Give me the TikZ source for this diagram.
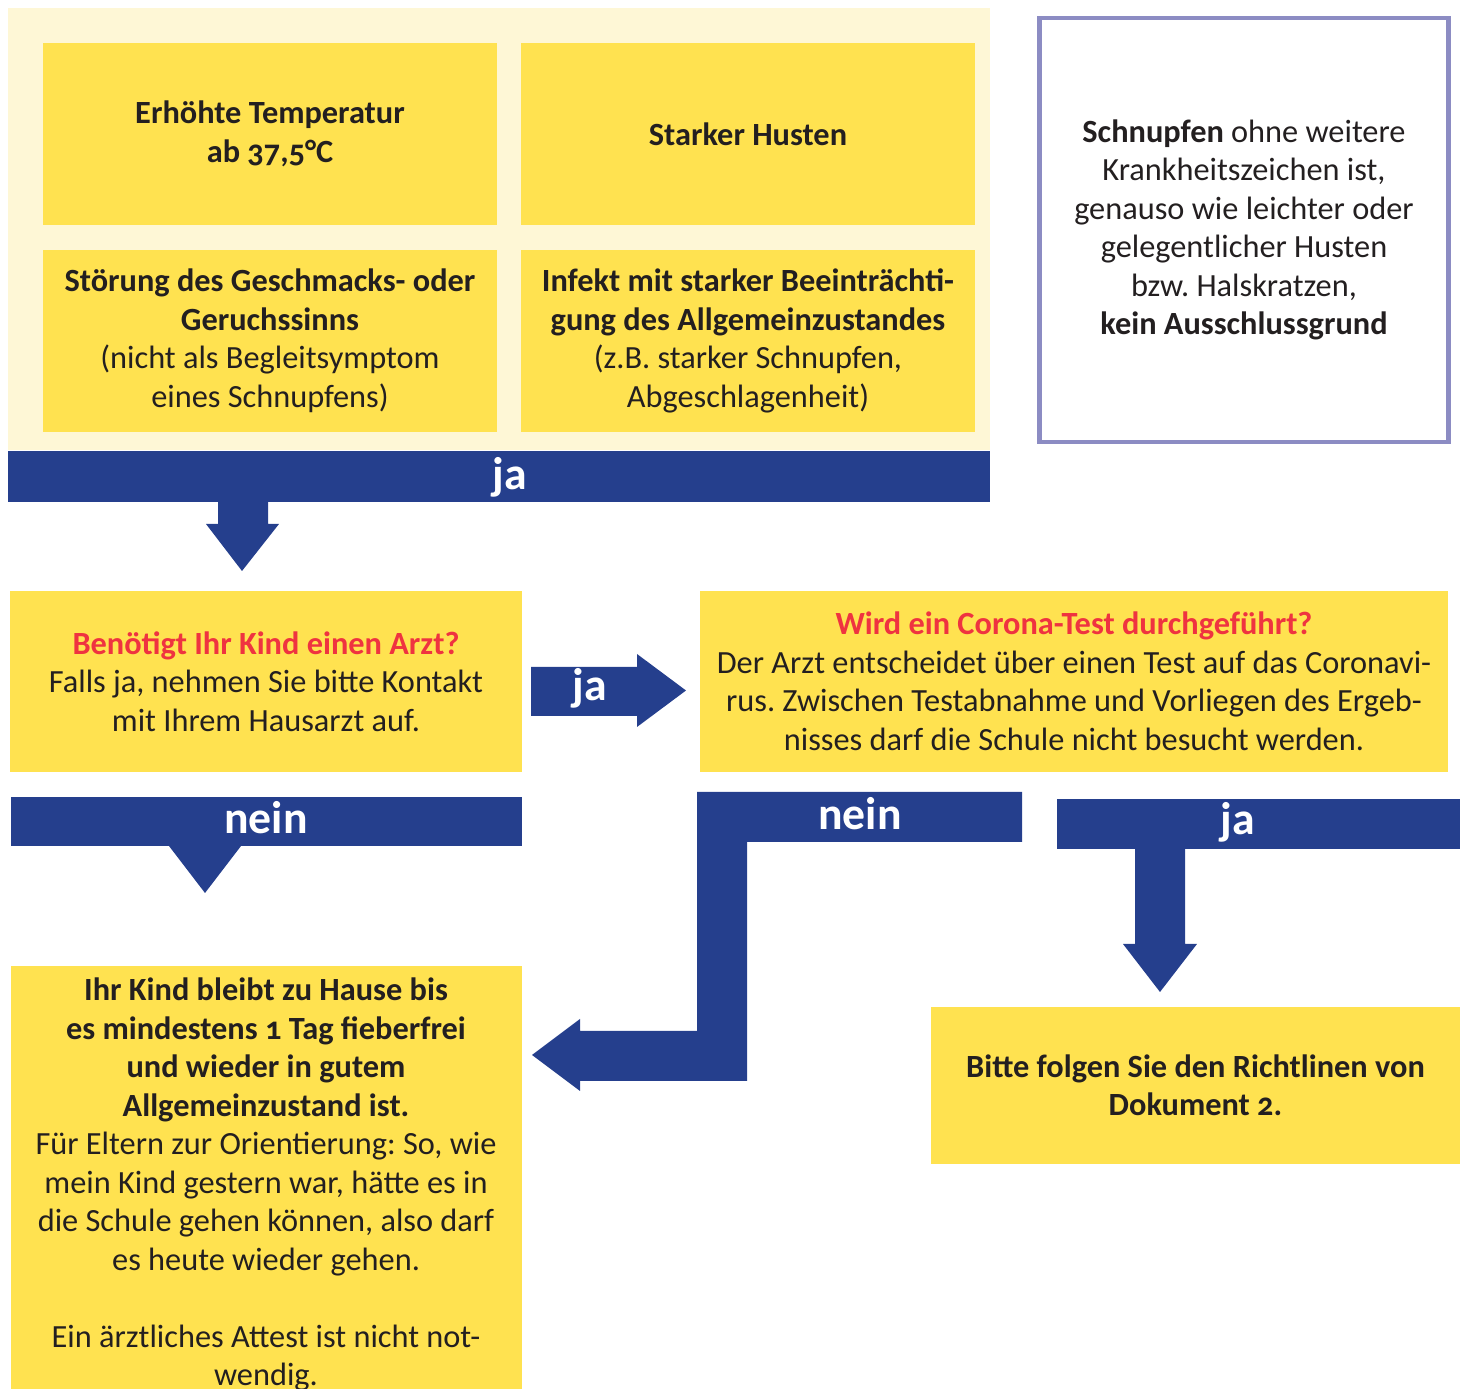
\documentclass[tikz,border=0pt]{standalone}
\usepackage{fontspec}
\setmainfont{Carlito}[Numbers=OldStyle]
\usetikzlibrary{positioning}

\definecolor{boxyellow}{RGB}{255,226,80}
\definecolor{palecream}{RGB}{254,247,214}
\definecolor{flowblue}{RGB}{37,63,141}
\definecolor{alertred}{RGB}{239,51,64}
\definecolor{notelila}{RGB}{140,140,195}
\definecolor{textgray}{RGB}{35,31,32}

\newcommand{\bodyfont}{\fontsize{9.2}{10.95}\selectfont\frenchspacing}
\newcommand{\barfont}{\fontsize{13}{13}\selectfont\bfseries}
\newcommand{\alert}[1]{\textcolor{alertred}{\textbf{#1}}}

\begin{document}
\frenchspacing
\begin{tikzpicture}[x=0.01cm,y=-0.01cm,inner sep=0pt,outer sep=0pt,
infobox/.style={fill=boxyellow,rectangle,minimum width=4.54cm,minimum height=1.82cm,align=center,text=textgray,font=\bodyfont},
notebox/.style={draw=notelila,line width=0.045cm,rectangle,minimum width=4.09cm,minimum height=4.24cm,align=center,text=textgray,font=\bodyfont},
bluebar/.style={fill=flowblue,rectangle},
barlabel/.style={text=white,font=\barfont},
blockarrow/.style={fill=flowblue}]

\useasboundingbox (0,0) rectangle (1462,1389);
\fill[palecream] (8,8) rectangle (990,450);

% symptoms
\draw (270,134) node[infobox] (temp) {\textbf{Erhöhte Temperatur}\\\textbf{ab 37,5°C}};
\draw (748,134) node[infobox] (husten) {\textbf{Starker Husten}};
\draw (270,341) node[infobox] (geruch) {\textbf{Störung des Geschmacks- oder}\\\textbf{Geruchssinns}\\(nicht als Begleitsymptom\\eines Schnupfens)};
\draw (748,341) node[infobox] (infekt) {\textbf{Infekt mit starker Beeinträchti-}\\\textbf{gung des Allgemeinzustandes}\\(z.B. starker Schnupfen,\\Abgeschlagenheit)};
\draw (1244,230) node[notebox] (schnupfen) {\textbf{Schnupfen} ohne weitere\\Krankheitszeichen ist,\\genauso wie leichter oder\\gelegentlicher Husten\\bzw. Halskratzen,\\\textbf{kein Ausschlussgrund}};

% questions
\draw (266,681.5) node[infobox,minimum width=5.12cm,minimum height=1.81cm] (arzt) {\alert{Benötigt Ihr Kind einen Arzt?}\\Falls ja, nehmen Sie bitte Kontakt\\mit Ihrem Hausarzt auf.};
\draw (1074,681.5) node[infobox,minimum width=7.48cm,minimum height=1.81cm] (test) {\alert{Wird ein Corona-Test durchgeführt?}\\Der Arzt entscheidet über einen Test auf das Coronavi-\\rus. Zwischen Testabnahme und Vorliegen des Ergeb-\\nisses darf die Schule nicht besucht werden.};

% results
\fill[boxyellow] (11,966) rectangle (522,1400);
\draw (266,978) node[anchor=north,align=center,text=textgray,font=\bodyfont] (zuhause) {\textbf{Ihr Kind bleibt zu Hause bis}\\\textbf{es mindestens 1 Tag fieberfrei}\\\textbf{und wieder in gutem}\\\textbf{Allgemeinzustand ist.}\\Für Eltern zur Orientierung: So, wie\\mein Kind gestern war, hätte es in\\die Schule gehen können, also darf\\es heute wieder gehen.\\[10.95pt]Ein ärztliches Attest ist nicht not-\\wendig.};
\draw (1195.5,1085.5) node[infobox,minimum width=5.29cm,minimum height=1.57cm] (dokument) {\textbf{Bitte folgen Sie den Richtlinen von}\\\textbf{Dokument 2.}};

% ja: symptoms -> arzt
\draw (499,476.5) node[bluebar,minimum width=9.82cm,minimum height=0.5cm] (jabar) {};
\draw (510,477) node[barlabel] (jalabel) {ja};
\fill[blockarrow] (218,501) -- (218,524) -- (206,524) -- (242,571) -- (279,524) -- (268,524) -- (268,501) -- cycle;

% ja: arzt -> test
\fill[blockarrow] (531,667) -- (637,667) -- (637,654) -- (686,690.5) -- (637,727) -- (637,716) -- (531,716) -- cycle;
\draw (590,688) node[barlabel] (jaarzt) {ja};

% nein: arzt -> zuhause
\draw (266.5,821.5) node[bluebar,minimum width=5.11cm,minimum height=0.49cm] (neinbar) {};
\draw (266,818) node[barlabel] (neinlabel) {nein};
\fill[blockarrow] (169,846) -- (205,893) -- (241,846) -- cycle;

% nein: test -> zuhause
\fill[blockarrow] (697,792) -- (1022,792) -- (1022,842) -- (747,842) -- (747,1081) -- (580,1081) -- (580,1091) -- (532,1055) -- (580,1019) -- (580,1031) -- (697,1031) -- cycle;
\draw (860,814) node[barlabel] (neintest) {nein};

% ja: test -> dokument
\draw (1258.5,824) node[bluebar,minimum width=4.03cm,minimum height=0.5cm] (jatestbar) {};
\draw (1238,822) node[barlabel] (jatest) {ja};
\fill[blockarrow] (1135,849) -- (1135,944) -- (1123,944) -- (1160,992) -- (1197,944) -- (1185,944) -- (1185,849) -- cycle;
\end{tikzpicture}
\end{document}
